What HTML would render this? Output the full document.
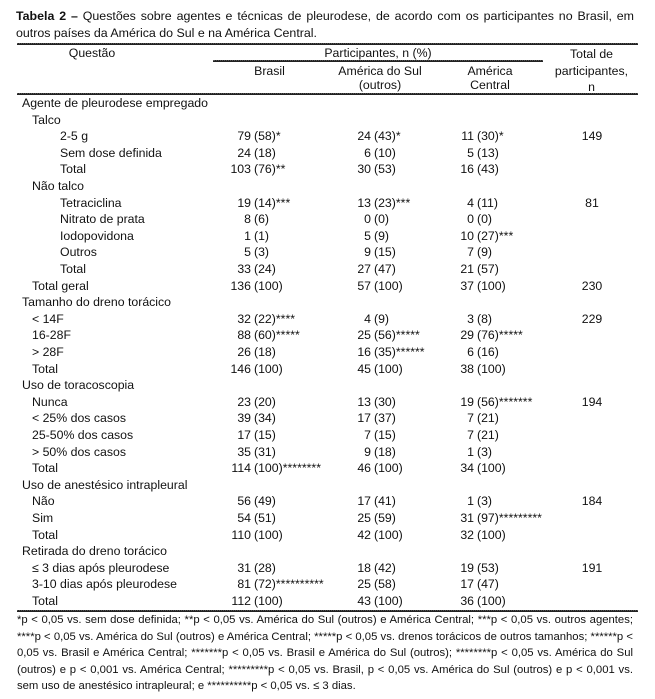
<!DOCTYPE html>
<html><head><meta charset="utf-8"><style>
body{margin:0;width:655px;height:699px;background:#fff;position:relative;font-family:"Liberation Sans",sans-serif;color:#111;overflow:hidden}
.a{position:absolute;white-space:nowrap;font-size:12.3px;line-height:14px}
.t{position:absolute;left:16px;width:618px;font-size:12.4px;line-height:17px;text-align:justify;text-align-last:left}
.f{position:absolute;left:17px;width:616px;font-size:11.3px;line-height:16.5px;text-align:justify;top:612px}
.r{position:absolute;height:1px;background:#222;border-top:1px dotted #555}
.c{text-align:center}
</style></head><body>
<div class="t" style="top:8px"><b>Tabela 2 –</b> Questões sobre agentes e técnicas de pleurodese, de acordo com os participantes no Brasil, em outros países da América do Sul e na América Central.</div>
<div class="r" style="left:17px;width:621px;top:43px"></div>
<div class="r" style="left:213px;width:330px;top:60px"></div>
<div class="r" style="left:17px;width:621px;top:93px"></div>
<div class="r" style="left:17px;width:621px;top:610px"></div>
<div class="a c" style="left:17px;width:150px;top:46px">Questão</div>
<div class="a c" style="left:213px;width:330px;top:46px">Participantes, n (%)</div>
<div class="a c" style="left:222px;width:95px;top:64px">Brasil</div>
<div class="a c" style="left:327px;width:106px;top:64px">América do Sul<br>(outros)</div>
<div class="a c" style="left:442px;width:96px;top:64px">América<br>Central</div>
<div class="a c" style="left:545px;width:93px;top:46px;line-height:16.5px">Total de<br>participantes,<br>n</div>
<div id="rows"></div>
<div class="f">*p &lt; 0,05 vs. sem dose definida; **p &lt; 0,05 vs. América do Sul (outros) e América Central; ***p &lt; 0,05 vs. outros agentes; ****p &lt; 0,05 vs. América do Sul (outros) e América Central; *****p &lt; 0,05 vs. drenos torácicos de outros tamanhos; ******p &lt; 0,05 vs. Brasil e América Central; *******p &lt; 0,05 vs. Brasil e América do Sul (outros); ********p &lt; 0,05 vs. América do Sul (outros) e p &lt; 0,001 vs. América Central; *********p &lt; 0,05 vs. Brasil, p &lt; 0,05 vs. América do Sul (outros) e p &lt; 0,001 vs. sem uso de anestésico intrapleural; e **********p &lt; 0,05 vs. ≤ 3 dias.</div>
<script>
var R=[
[0,"Agente de pleurodese empregado"],
[1,"Talco"],
[2,"2-5 g","79 (58)*","24 (43)*","11 (30)*","149"],
[2,"Sem dose definida","24 (18)","6 (10)","5 (13)"],
[2,"Total","103 (76)**","30 (53)","16 (43)"],
[1,"Não talco"],
[2,"Tetraciclina","19 (14)***","13 (23)***","4 (11)","81"],
[2,"Nitrato de prata","8 (6)","0 (0)","0 (0)"],
[2,"Iodopovidona","1 (1)","5 (9)","10 (27)***"],
[2,"Outros","5 (3)","9 (15)","7 (9)"],
[2,"Total","33 (24)","27 (47)","21 (57)"],
[1,"Total geral","136 (100)","57 (100)","37 (100)","230"],
[0,"Tamanho do dreno torácico"],
[1,"&lt; 14F","32 (22)****","4 (9)","3 (8)","229"],
[1,"16-28F","88 (60)*****","25 (56)*****","29 (76)*****"],
[1,"&gt; 28F","26 (18)","16 (35)******","6 (16)"],
[1,"Total","146 (100)","45 (100)","38 (100)"],
[0,"Uso de toracoscopia"],
[1,"Nunca","23 (20)","13 (30)","19 (56)*******","194"],
[1,"&lt; 25% dos casos","39 (34)","17 (37)","7 (21)"],
[1,"25-50% dos casos","17 (15)","7 (15)","7 (21)"],
[1,"&gt; 50% dos casos","35 (31)","9 (18)","1 (3)"],
[1,"Total","114 (100)********","46 (100)","34 (100)"],
[0,"Uso de anestésico intrapleural"],
[1,"Não","56 (49)","17 (41)","1 (3)","184"],
[1,"Sim","54 (51)","25 (59)","31 (97)*********"],
[1,"Total","110 (100)","42 (100)","32 (100)"],
[0,"Retirada do dreno torácico"],
[1,"≤ 3 dias após pleurodese","31 (28)","18 (42)","19 (53)","191"],
[1,"3-10 dias após pleurodese","81 (72)**********","25 (58)","17 (47)"],
[1,"Total","112 (100)","43 (100)","36 (100)"]];
var ind=[22,32,60],cols=[251,371,474],h="";
R.forEach(function(r,i){var y=(96+i*16.6).toFixed(1);
h+='<div class="a" style="left:'+ind[r[0]]+'px;top:'+y+'px">'+r[1]+'</div>';
for(var k=0;k<3;k++){if(r[k+2]){var s=r[k+2],p=s.indexOf(' ');
h+='<div class="a" style="left:'+(cols[k]-40)+'px;width:40px;text-align:right;top:'+y+'px">'+s.slice(0,p)+'</div>';
h+='<div class="a" style="left:'+(cols[k]+3)+'px;top:'+y+'px">'+s.slice(p+1)+'</div>';}}
if(r[5])h+='<div class="a c" style="left:564px;width:56px;top:'+y+'px">'+r[5]+'</div>';});
document.getElementById('rows').innerHTML=h;
</script>
</body></html>
